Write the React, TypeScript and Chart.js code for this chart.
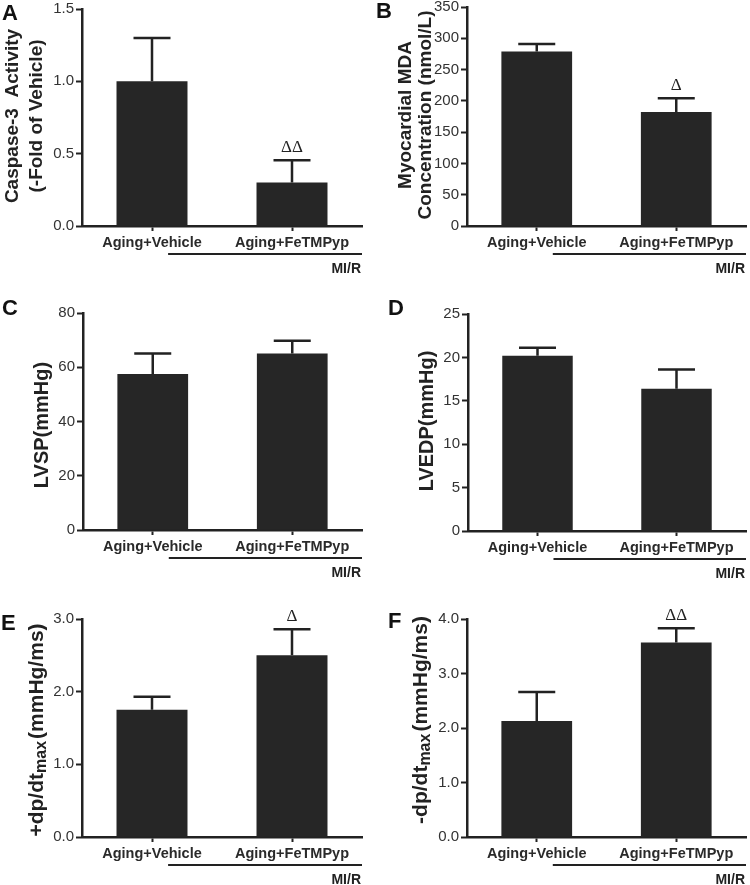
import React, { useEffect, useRef } from "react";
import { Chart, registerables } from "chart.js";

Chart.register(...registerables);

// ---------- data ----------
const categories = ["Aging+Vehicle", "Aging+FeTMPyp"];
const groupLabel = "MI/R";

const caspaseMean = [1.0, 0.3];
const caspaseSem = [0.3, 0.155];
const caspaseTicks = [0, 0.5, 1.0, 1.5];
const caspaseMarks = ["", "ΔΔ"];

const mdaMean = [279, 182];
const mdaSem = [12, 22];
const mdaTicks = [0, 50, 100, 150, 200, 250, 300, 350];
const mdaMarks = ["", "Δ"];

const lvspMean = [57.5, 65.1];
const lvspSem = [7.6, 4.7];
const lvspTicks = [0, 20, 40, 60, 80];
const lvspMarks = ["", ""];

const lvedpMean = [20.2, 16.4];
const lvedpSem = [0.9, 2.2];
const lvedpTicks = [0, 5, 10, 15, 20, 25];
const lvedpMarks = ["", ""];

const posDpdtMean = [1.75, 2.5];
const posDpdtSem = [0.18, 0.36];
const posDpdtTicks = [0, 1.0, 2.0, 3.0];
const posDpdtMarks = ["", "Δ"];

const negDpdtMean = [2.13, 3.57];
const negDpdtSem = [0.53, 0.26];
const negDpdtTicks = [0, 1.0, 2.0, 3.0, 4.0];
const negDpdtMarks = ["", "ΔΔ"];

// ---------- styling ----------
const FONT = "'Liberation Sans', Arial, Helvetica, sans-serif";
const SERIF = "'Liberation Serif', 'Times New Roman', serif";
const INK = "#222222";
const BAR = "#262626";
const TICK_TXT = "#333333";

type Seg = { t: string; size: number; dy: number };
type PanelDef = {
  letter: string;
  letterPos: [number, number];
  title: Seg[][];
  titleX: number[];
  titleCY: number;
  mean: number[];
  sem: number[];
  ticks: number[];
  decimals: number;
  marks: string[];
  rect: { x: number; y: number; w: number; h: number };
  area: { l: number; t: number; r: number; b: number };
};

const plain = (t: string, size = 20): Seg[] => [{ t, size, dy: 0 }];

const panels: PanelDef[] = [
  {
    letter: "A", letterPos: [2, 20],
    title: [plain("Caspase-3  Activity", 19), plain("(-Fold of Vehicle)", 19)],
    titleX: [13, 37], titleCY: 116,
    mean: caspaseMean, sem: caspaseSem, ticks: caspaseTicks, decimals: 1, marks: caspaseMarks,
    rect: { x: 0, y: 0, w: 375, h: 290 }, area: { l: 82, t: 9, r: 362, b: 226 },
  },
  {
    letter: "B", letterPos: [1, 18],
    title: [plain("Myocardial MDA", 19), plain("Concentration (nmol/L)", 19)],
    titleX: [31, 51], titleCY: 115,
    mean: mdaMean, sem: mdaSem, ticks: mdaTicks, decimals: 0, marks: mdaMarks,
    rect: { x: 375, y: 0, w: 375, h: 290 }, area: { l: 92, t: 7, r: 371, b: 226 },
  },
  {
    letter: "C", letterPos: [2, 25],
    title: [plain("LVSP(mmHg)")],
    titleX: [42], titleCY: 135,
    mean: lvspMean, sem: lvspSem, ticks: lvspTicks, decimals: 0, marks: lvspMarks,
    rect: { x: 0, y: 290, w: 375, h: 290 }, area: { l: 83, t: 23, r: 362, b: 240 },
  },
  {
    letter: "D", letterPos: [13, 25],
    title: [plain("LVEDP(mmHg)")],
    titleX: [52], titleCY: 131,
    mean: lvedpMean, sem: lvedpSem, ticks: lvedpTicks, decimals: 0, marks: lvedpMarks,
    rect: { x: 375, y: 290, w: 375, h: 290 }, area: { l: 93, t: 24, r: 371, b: 241 },
  },
  {
    letter: "E", letterPos: [1, 50],
    title: [[{ t: "+dp/dt", size: 21, dy: 0 }, { t: "max", size: 16, dy: 5 }, { t: "(mmHg/ms)", size: 21, dy: 0 }]],
    titleX: [37], titleCY: 150,
    mean: posDpdtMean, sem: posDpdtSem, ticks: posDpdtTicks, decimals: 1, marks: posDpdtMarks,
    rect: { x: 0, y: 580, w: 375, h: 305 }, area: { l: 82, t: 39, r: 362, b: 257 },
  },
  {
    letter: "F", letterPos: [13, 48],
    title: [[{ t: "-dp/dt", size: 21, dy: 0 }, { t: "max", size: 16, dy: 5 }, { t: "(mmHg/ms)", size: 21, dy: 0 }]],
    titleX: [46], titleCY: 140,
    mean: negDpdtMean, sem: negDpdtSem, ticks: negDpdtTicks, decimals: 1, marks: negDpdtMarks,
    rect: { x: 375, y: 580, w: 375, h: 305 }, area: { l: 92, t: 39, r: 371, b: 257 },
  },
];

function makeDecor(p: PanelDef) {
  return {
    id: "decor" + p.letter,
    afterDraw(chart: any) {
      const ctx: CanvasRenderingContext2D = chart.ctx;
      const xs = chart.scales.x;
      const ys = chart.scales.y;
      const ca = chart.chartArea;
      ctx.save();

      // error bars (upper only) + significance marks
      ctx.strokeStyle = INK;
      ctx.lineWidth = 2.5;
      p.mean.forEach((m, i) => {
        const x = xs.getPixelForValue(i);
        const yb = ys.getPixelForValue(m);
        const yt = ys.getPixelForValue(m + p.sem[i]);
        ctx.beginPath();
        ctx.moveTo(x, yb);
        ctx.lineTo(x, yt);
        ctx.moveTo(x - 18.5, yt);
        ctx.lineTo(x + 18.5, yt);
        ctx.stroke();
        if (p.marks[i]) {
          ctx.fillStyle = INK;
          ctx.font = `17px ${SERIF}`;
          ctx.textAlign = "center";
          ctx.textBaseline = "alphabetic";
          ctx.fillText(p.marks[i], x, yt - 8);
        }
      });

      // group bracket line + label
      const gx0 = xs.getPixelForValue(0.115);
      const gy = ca.bottom + 28;
      ctx.lineWidth = 2;
      ctx.beginPath();
      ctx.moveTo(gx0, gy);
      ctx.lineTo(ca.right, gy);
      ctx.stroke();
      ctx.fillStyle = INK;
      ctx.font = `bold 14px ${FONT}`;
      ctx.textAlign = "right";
      ctx.textBaseline = "middle";
      ctx.fillText(groupLabel, ca.right - 1, ca.bottom + 43);

      // panel letter
      ctx.font = `bold 22px ${FONT}`;
      ctx.textAlign = "left";
      ctx.textBaseline = "alphabetic";
      ctx.fillStyle = "#111";
      ctx.fillText(p.letter, p.letterPos[0], p.letterPos[1]);

      // y-axis title (rotated)
      ctx.fillStyle = INK;
      p.title.forEach((segs, li) => {
        ctx.save();
        ctx.translate(p.titleX[li], p.titleCY);
        ctx.rotate(-Math.PI / 2);
        ctx.textBaseline = "middle";
        ctx.textAlign = "left";
        let total = 0;
        const big = Math.max(...segs.map((s) => s.size));
        const widths = segs.map((s) => {
          ctx.font = `bold ${s.size}px ${FONT}`;
          const w = ctx.measureText(s.t).width + (s.size < big ? 2 : 0);
          total += w;
          return w;
        });
        let cx = -total / 2;
        segs.forEach((s, si) => {
          ctx.font = `bold ${s.size}px ${FONT}`;
          ctx.fillText(s.t, cx, s.dy);
          cx += widths[si];
        });
        ctx.restore();
      });

      ctx.restore();
    },
  };
}

function Panel({ p }: { p: PanelDef }) {
  const ref = useRef<HTMLCanvasElement | null>(null);
  useEffect(() => {
    if (!ref.current) return;
    const chart = new Chart(ref.current, {
      type: "bar",
      data: {
        labels: categories,
        datasets: [
          {
            data: p.mean,
            backgroundColor: BAR,
            borderWidth: 0,
            barPercentage: 1,
            categoryPercentage: 0.507,
          },
        ],
      },
      options: {
        responsive: false,
        animation: false,
        devicePixelRatio: 1,
        events: [],
        layout: { padding: { left: 0, top: p.area.t, right: p.rect.w - p.area.r, bottom: 0 } },
        plugins: { legend: { display: false }, tooltip: { enabled: false }, title: { display: false } },
        scales: {
          x: {
            offset: true,
            grid: {
              display: true,
              offset: false,
              drawOnChartArea: false,
              drawTicks: true,
              tickLength: 5,
              tickWidth: 2,
              tickColor: INK,
            },
            border: { display: true, color: INK, width: 2.5 },
            ticks: {
              color: "#2a2a2a",
              font: { family: FONT, size: 14.5, weight: "bold" },
              padding: 3,
              maxRotation: 0,
              autoSkip: false,
            },
            afterFit: (s: any) => {
              s.height = p.rect.h - p.area.b;
              s.paddingLeft = 0;
              s.paddingRight = 0;
            },
          },
          y: {
            min: 0,
            max: p.ticks[p.ticks.length - 1],
            afterBuildTicks: (s: any) => {
              s.ticks = p.ticks.map((v) => ({ value: v }));
            },
            ticks: {
              callback: (v: any) => Number(v).toFixed(p.decimals),
              color: TICK_TXT,
              font: { family: FONT, size: 15 },
              padding: 2,
            },
            grid: {
              display: true,
              drawOnChartArea: false,
              drawTicks: true,
              tickLength: 6,
              tickWidth: 2,
              tickColor: INK,
            },
            border: { display: true, color: INK, width: 2.5 },
            afterFit: (s: any) => {
              s.width = p.area.l;
              s.paddingTop = 0;
              s.paddingBottom = 0;
            },
          },
        },
      } as any,
      plugins: [makeDecor(p)],
    });
    return () => chart.destroy();
  }, [p]);

  return (
    <div style={{ position: "absolute", left: p.rect.x, top: p.rect.y, width: p.rect.w, height: p.rect.h }}>
      <canvas
        ref={ref}
        width={p.rect.w}
        height={p.rect.h}
        style={{ display: "block", width: p.rect.w, height: p.rect.h }}
      />
    </div>
  );
}

export default function App() {
  return (
    <div style={{ position: "absolute", left: 0, top: 0, width: 750, height: 885, background: "#fff", overflow: "hidden" }}>
      {panels.map((p) => (
        <Panel key={p.letter} p={p} />
      ))}
    </div>
  );
}
